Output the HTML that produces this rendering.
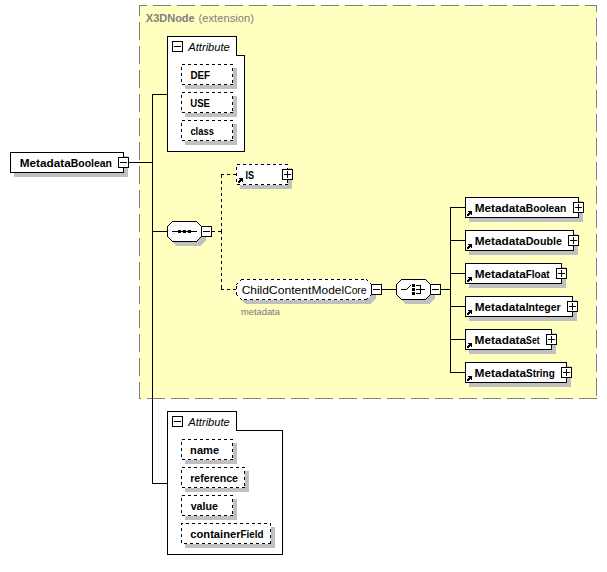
<!DOCTYPE html>
<html><head><meta charset="utf-8"><title>MetadataBoolean</title>
<style>
html,body{margin:0;padding:0;background:#fff;}
body{width:607px;height:572px;overflow:hidden;}
svg{display:block;font-family:"Liberation Sans",sans-serif;}
</style></head>
<body>
<svg width="607" height="572" viewBox="0 0 607 572" shape-rendering="crispEdges">
<rect width="607" height="572" fill="#fff"/>
<rect x="139" y="5" width="458" height="394" fill="#ffffc0"/>
<line x1="139" y1="5.5" x2="597" y2="5.5" stroke="#808080" stroke-dasharray="18 6" stroke-dashoffset="10"/>
<line x1="596.5" y1="5" x2="596.5" y2="399" stroke="#808080" stroke-dasharray="18 6" stroke-dashoffset="11"/>
<line x1="139.5" y1="5" x2="139.5" y2="399" stroke="#808080" stroke-dasharray="18 6" stroke-dashoffset="7"/>
<line x1="139" y1="398.5" x2="597" y2="398.5" stroke="#808080" stroke-dasharray="18 6" stroke-dashoffset="16"/>
<text id="x3d" y="22" font-weight="bold" fill="#808080" font-size="11"><tspan x="145.80" textLength="48.90" lengthAdjust="spacingAndGlyphs">X3DNode</tspan></text>
<text id="ext" y="22" font-weight="normal" fill="#808080" font-size="11"><tspan x="198.59" textLength="55.29" lengthAdjust="spacingAndGlyphs">(extension)</tspan></text>
<line x1="129" y1="162.5" x2="153" y2="162.5" stroke="#000"/>
<line x1="152.5" y1="94" x2="152.5" y2="484" stroke="#000"/>
<line x1="152" y1="94.5" x2="168" y2="94.5" stroke="#000"/>
<line x1="152" y1="231.5" x2="168" y2="231.5" stroke="#000"/>
<line x1="152" y1="483.5" x2="168" y2="483.5" stroke="#000"/>
<path d="M167.5,36.5 H236.5 V55.5 H244.5 V151.5 H167.5 Z" fill="#fff" stroke="#000"/>
<rect x="172.5" y="41.5" width="10" height="10" fill="#fff" stroke="#000"/>
<line x1="174" y1="46.5" x2="181" y2="46.5" stroke="#000"/>
<text id="g1_t" y="51" font-weight="normal" font-style="italic" fill="#000" font-size="11"><tspan x="188.31" textLength="41.51" lengthAdjust="spacingAndGlyphs">Attribute</tspan></text>
<rect x="185" y="68" width="52" height="21" fill="#c0c0c0"/>
<rect x="181" y="64" width="52" height="21" fill="#fff"/>
<line x1="181" y1="64.5" x2="233" y2="64.5" stroke="#000" stroke-dasharray="3 3" stroke-dashoffset="5"/>
<line x1="232.5" y1="65" x2="232.5" y2="85" stroke="#000" stroke-dasharray="3 3" stroke-dashoffset="3"/>
<line x1="181.5" y1="64" x2="181.5" y2="85" stroke="#000" stroke-dasharray="3 3" stroke-dashoffset="3"/>
<line x1="182" y1="84.5" x2="233" y2="84.5" stroke="#000" stroke-dasharray="3 3" stroke-dashoffset="0"/>
<text id="g1_0" y="79" font-weight="bold" fill="#000" font-size="11"><tspan x="190.43" textLength="19.63" lengthAdjust="spacingAndGlyphs">DEF</tspan></text>
<rect x="185" y="96" width="52" height="21" fill="#c0c0c0"/>
<rect x="181" y="92" width="52" height="21" fill="#fff"/>
<line x1="181" y1="92.5" x2="233" y2="92.5" stroke="#000" stroke-dasharray="3 3" stroke-dashoffset="5"/>
<line x1="232.5" y1="93" x2="232.5" y2="113" stroke="#000" stroke-dasharray="3 3" stroke-dashoffset="3"/>
<line x1="181.5" y1="92" x2="181.5" y2="113" stroke="#000" stroke-dasharray="3 3" stroke-dashoffset="3"/>
<line x1="182" y1="112.5" x2="233" y2="112.5" stroke="#000" stroke-dasharray="3 3" stroke-dashoffset="0"/>
<text id="g1_1" y="107" font-weight="bold" fill="#000" font-size="11"><tspan x="190.23" textLength="19.73" lengthAdjust="spacingAndGlyphs">USE</tspan></text>
<rect x="185" y="124" width="52" height="21" fill="#c0c0c0"/>
<rect x="181" y="120" width="52" height="21" fill="#fff"/>
<line x1="181" y1="120.5" x2="233" y2="120.5" stroke="#000" stroke-dasharray="3 3" stroke-dashoffset="5"/>
<line x1="232.5" y1="121" x2="232.5" y2="141" stroke="#000" stroke-dasharray="3 3" stroke-dashoffset="3"/>
<line x1="181.5" y1="120" x2="181.5" y2="141" stroke="#000" stroke-dasharray="3 3" stroke-dashoffset="3"/>
<line x1="182" y1="140.5" x2="233" y2="140.5" stroke="#000" stroke-dasharray="3 3" stroke-dashoffset="0"/>
<text id="g1_2" y="135" font-weight="bold" fill="#000" font-size="11"><tspan x="190.42" textLength="23.45" lengthAdjust="spacingAndGlyphs">class</tspan></text>
<path d="M167.5,411.5 H236.5 V430.5 H282.5 V554.5 H167.5 Z" fill="#fff" stroke="#000"/>
<rect x="172.5" y="416.5" width="10" height="10" fill="#fff" stroke="#000"/>
<line x1="174" y1="421.5" x2="181" y2="421.5" stroke="#000"/>
<text id="g2_t" y="426" font-weight="normal" font-style="italic" fill="#000" font-size="11"><tspan x="188.31" textLength="41.51" lengthAdjust="spacingAndGlyphs">Attribute</tspan></text>
<rect x="185" y="443" width="52" height="21" fill="#c0c0c0"/>
<rect x="181" y="439" width="52" height="21" fill="#fff"/>
<line x1="181" y1="439.5" x2="233" y2="439.5" stroke="#000" stroke-dasharray="3 3" stroke-dashoffset="5"/>
<line x1="232.5" y1="440" x2="232.5" y2="460" stroke="#000" stroke-dasharray="3 3" stroke-dashoffset="3"/>
<line x1="181.5" y1="439" x2="181.5" y2="460" stroke="#000" stroke-dasharray="3 3" stroke-dashoffset="3"/>
<line x1="182" y1="459.5" x2="233" y2="459.5" stroke="#000" stroke-dasharray="3 3" stroke-dashoffset="0"/>
<text id="g2_0" y="454" font-weight="bold" fill="#000" font-size="11"><tspan x="190.14" textLength="28.94" lengthAdjust="spacingAndGlyphs">name</tspan></text>
<rect x="185" y="471" width="64" height="21" fill="#c0c0c0"/>
<rect x="181" y="467" width="64" height="21" fill="#fff"/>
<line x1="181" y1="467.5" x2="245" y2="467.5" stroke="#000" stroke-dasharray="3 3" stroke-dashoffset="5"/>
<line x1="244.5" y1="468" x2="244.5" y2="488" stroke="#000" stroke-dasharray="3 3" stroke-dashoffset="3"/>
<line x1="181.5" y1="467" x2="181.5" y2="488" stroke="#000" stroke-dasharray="3 3" stroke-dashoffset="3"/>
<line x1="182" y1="487.5" x2="245" y2="487.5" stroke="#000" stroke-dasharray="3 3" stroke-dashoffset="0"/>
<text id="g2_1" y="482" font-weight="bold" fill="#000" font-size="11"><tspan x="190.18" textLength="47.79" lengthAdjust="spacingAndGlyphs">reference</tspan></text>
<rect x="185" y="499" width="52" height="21" fill="#c0c0c0"/>
<rect x="181" y="495" width="52" height="21" fill="#fff"/>
<line x1="181" y1="495.5" x2="233" y2="495.5" stroke="#000" stroke-dasharray="3 3" stroke-dashoffset="5"/>
<line x1="232.5" y1="496" x2="232.5" y2="516" stroke="#000" stroke-dasharray="3 3" stroke-dashoffset="3"/>
<line x1="181.5" y1="495" x2="181.5" y2="516" stroke="#000" stroke-dasharray="3 3" stroke-dashoffset="3"/>
<line x1="182" y1="515.5" x2="233" y2="515.5" stroke="#000" stroke-dasharray="3 3" stroke-dashoffset="0"/>
<text id="g2_2" y="510" font-weight="bold" fill="#000" font-size="11"><tspan x="190.65" textLength="27.32" lengthAdjust="spacingAndGlyphs">value</tspan></text>
<rect x="185" y="527" width="90" height="21" fill="#c0c0c0"/>
<rect x="181" y="523" width="90" height="21" fill="#fff"/>
<line x1="181" y1="523.5" x2="271" y2="523.5" stroke="#000" stroke-dasharray="3 3" stroke-dashoffset="1"/>
<line x1="270.5" y1="524" x2="270.5" y2="544" stroke="#000" stroke-dasharray="3 3" stroke-dashoffset="1"/>
<line x1="181.5" y1="523" x2="181.5" y2="544" stroke="#000" stroke-dasharray="3 3" stroke-dashoffset="1"/>
<line x1="182" y1="543.5" x2="271" y2="543.5" stroke="#000" stroke-dasharray="3 3" stroke-dashoffset="4"/>
<text id="g2_3" y="538" font-weight="bold" fill="#000" font-size="11"><tspan x="190.34" textLength="50.19" lengthAdjust="spacingAndGlyphs">container</tspan><tspan x="240.53" textLength="22.91" lengthAdjust="spacingAndGlyphs">Field</tspan></text>
<rect x="14" y="156" width="114" height="21" fill="#c0c0c0"/>
<rect x="10.5" y="152.5" width="113" height="20" fill="#fff" stroke="#000"/>
<text id="main" y="167" font-weight="bold" fill="#000" font-size="11"><tspan x="19.70" textLength="50.99" lengthAdjust="spacingAndGlyphs">Metadata</tspan><tspan x="70.69" textLength="41.27" lengthAdjust="spacingAndGlyphs">Boolean</tspan></text>
<rect x="118.5" y="157.5" width="10" height="10" fill="#fff" stroke="#000"/>
<line x1="120" y1="162.5" x2="127" y2="162.5" stroke="#000"/>
<polygon points="176.5,225.5 200.5,225.5 205.5,230.5 205.5,240.5 200.5,245.5 176.5,245.5 171.5,240.5 171.5,230.5" fill="#c0c0c0" stroke="#c0c0c0"/>
<polygon points="172.5,221.5 196.5,221.5 201.5,226.5 201.5,236.5 196.5,241.5 172.5,241.5 167.5,236.5 167.5,226.5" fill="#fff" stroke="#000"/>
<line x1="172" y1="231.5" x2="197" y2="231.5" stroke="#000"/>
<rect x="178" y="230" width="3" height="3" fill="#000"/>
<rect x="183" y="230" width="3" height="3" fill="#000"/>
<rect x="188" y="230" width="3" height="3" fill="#000"/>
<rect x="201.5" y="226.5" width="10" height="10" fill="#fff" stroke="#000"/>
<line x1="203" y1="231.5" x2="210" y2="231.5" stroke="#000"/>
<line x1="212" y1="231.5" x2="222" y2="231.5" stroke="#000" stroke-dasharray="3 3" stroke-dashoffset="0"/>
<line x1="221.5" y1="232" x2="221.5" y2="174" stroke="#000" stroke-dasharray="3 3"/>
<line x1="221.5" y1="231" x2="221.5" y2="288" stroke="#000" stroke-dasharray="3 3"/>
<rect x="221" y="288" width="1" height="2" fill="#000"/>
<line x1="221" y1="174.5" x2="237" y2="174.5" stroke="#000" stroke-dasharray="3 3" stroke-dashoffset="0"/>
<line x1="221" y1="289.5" x2="237" y2="289.5" stroke="#000" stroke-dasharray="3 3" stroke-dashoffset="0"/>
<rect x="240" y="168" width="52" height="21" fill="#c0c0c0"/>
<rect x="236" y="164" width="52" height="21" fill="#fff"/>
<line x1="236" y1="164.5" x2="288" y2="164.5" stroke="#000" stroke-dasharray="3 3" stroke-dashoffset="5"/>
<line x1="287.5" y1="165" x2="287.5" y2="185" stroke="#000" stroke-dasharray="3 3" stroke-dashoffset="3"/>
<line x1="236.5" y1="164" x2="236.5" y2="185" stroke="#000" stroke-dasharray="3 3" stroke-dashoffset="3"/>
<line x1="237" y1="184.5" x2="288" y2="184.5" stroke="#000" stroke-dasharray="3 3" stroke-dashoffset="0"/>
<rect x="239" y="178" width="4" height="1" fill="#000"/>
<rect x="240" y="179" width="3" height="1" fill="#000"/>
<rect x="239" y="180" width="4" height="1" fill="#000"/>
<rect x="238" y="181" width="3" height="1" fill="#000"/>
<rect x="242" y="181" width="1" height="1" fill="#000"/>
<rect x="238" y="182" width="2" height="1" fill="#000"/>
<text id="is" y="179" font-weight="bold" fill="#000" font-size="11"><tspan x="245.38" textLength="8.59" lengthAdjust="spacingAndGlyphs">IS</tspan></text>
<rect x="282.5" y="169.5" width="10" height="10" fill="#fff" stroke="#000"/>
<line x1="284" y1="174.5" x2="291" y2="174.5" stroke="#000"/>
<line x1="287.5" y1="171" x2="287.5" y2="178" stroke="#000"/>
<polygon points="245.5,283.5 370.5,283.5 375.5,288.5 375.5,298.5 370.5,303.5 245.5,303.5 240.5,298.5 240.5,288.5" fill="#c0c0c0" stroke="#c0c0c0"/>
<polygon points="241.5,279.5 366.5,279.5 371.5,284.5 371.5,294.5 366.5,299.5 241.5,299.5 236.5,294.5 236.5,284.5" fill="#fff" stroke="#fff"/>
<line x1="241" y1="279.5" x2="366" y2="279.5" stroke="#000" stroke-dasharray="3 3" stroke-dashoffset="0"/>
<line x1="244" y1="299.5" x2="367" y2="299.5" stroke="#000" stroke-dasharray="3 3" stroke-dashoffset="0"/>
<line x1="236.5" y1="286" x2="236.5" y2="295" stroke="#000" stroke-dasharray="3 3" stroke-dashoffset="0"/>
<rect x="366" y="279" width="1" height="1" fill="#000"/>
<rect x="367" y="280" width="1" height="1" fill="#000"/>
<rect x="370" y="283" width="1" height="1" fill="#000"/>
<rect x="367" y="298" width="1" height="1" fill="#000"/>
<rect x="370" y="295" width="1" height="1" fill="#000"/>
<rect x="240" y="280" width="1" height="1" fill="#000"/>
<rect x="237" y="283" width="1" height="1" fill="#000"/>
<rect x="236" y="284" width="1" height="1" fill="#000"/>
<rect x="237" y="295" width="1" height="1" fill="#000"/>
<rect x="240" y="298" width="1" height="1" fill="#000"/>
<rect x="241" y="299" width="1" height="1" fill="#000"/>
<text id="ccmc" y="294" font-weight="normal" fill="#000" font-size="11"><tspan x="241.70" textLength="27.19" lengthAdjust="spacingAndGlyphs">Child</tspan><tspan x="268.89" textLength="42.63" lengthAdjust="spacingAndGlyphs">Content</tspan><tspan x="311.52" textLength="32.67" lengthAdjust="spacingAndGlyphs">Model</tspan><tspan x="344.18" textLength="22.38" lengthAdjust="spacingAndGlyphs">Core</tspan></text>
<rect x="371.5" y="284.5" width="10" height="10" fill="#fff" stroke="#000"/>
<line x1="373" y1="289.5" x2="380" y2="289.5" stroke="#000"/>
<text id="meta" y="315" font-weight="normal" fill="#767676" font-size="9.5"><tspan x="241.06" textLength="38.85" lengthAdjust="spacingAndGlyphs">metadata</tspan></text>
<line x1="382" y1="289.5" x2="397" y2="289.5" stroke="#000"/>
<polygon points="405.5,283.5 429.5,283.5 434.5,288.5 434.5,298.5 429.5,303.5 405.5,303.5 400.5,298.5 400.5,288.5" fill="#c0c0c0" stroke="#c0c0c0"/>
<polygon points="401.5,279.5 425.5,279.5 430.5,284.5 430.5,294.5 425.5,299.5 401.5,299.5 396.5,294.5 396.5,284.5" fill="#fff" stroke="#000"/>
<rect x="430.5" y="284.5" width="10" height="10" fill="#fff" stroke="#000"/>
<line x1="432" y1="289.5" x2="439" y2="289.5" stroke="#000"/>
<line x1="401" y1="289.5" x2="407" y2="289.5" stroke="#000"/>
<rect x="407" y="288" width="1" height="1" fill="#000"/>
<rect x="408" y="287" width="1" height="1" fill="#000"/>
<rect x="409" y="286" width="1" height="1" fill="#000"/>
<rect x="410" y="285" width="1" height="1" fill="#000"/>
<rect x="412" y="284" width="3" height="3" fill="#000"/>
<rect x="412" y="288" width="3" height="3" fill="#000"/>
<rect x="412" y="292" width="3" height="3" fill="#000"/>
<line x1="416" y1="285.5" x2="421" y2="285.5" stroke="#000"/>
<line x1="416" y1="293.5" x2="421" y2="293.5" stroke="#000"/>
<line x1="420.5" y1="285" x2="420.5" y2="294" stroke="#000"/>
<line x1="416" y1="289.5" x2="425" y2="289.5" stroke="#000"/>
<line x1="441" y1="289.5" x2="451" y2="289.5" stroke="#000"/>
<line x1="450.5" y1="207" x2="450.5" y2="373" stroke="#000"/>
<line x1="450" y1="207.5" x2="466" y2="207.5" stroke="#000"/>
<rect x="469" y="201" width="114" height="21" fill="#c0c0c0"/>
<rect x="465.5" y="197.5" width="113" height="20" fill="#fff" stroke="#000"/>
<rect x="468" y="211" width="4" height="1" fill="#000"/>
<rect x="469" y="212" width="3" height="1" fill="#000"/>
<rect x="468" y="213" width="4" height="1" fill="#000"/>
<rect x="467" y="214" width="3" height="1" fill="#000"/>
<rect x="471" y="214" width="1" height="1" fill="#000"/>
<rect x="467" y="215" width="2" height="1" fill="#000"/>
<text id="el0" y="212" font-weight="bold" fill="#000" font-size="11"><tspan x="474.65" textLength="51.05" lengthAdjust="spacingAndGlyphs">Metadata</tspan><tspan x="525.70" textLength="40.65" lengthAdjust="spacingAndGlyphs">Boolean</tspan></text>
<rect x="573.5" y="202.5" width="10" height="10" fill="#fff" stroke="#000"/>
<line x1="575" y1="207.5" x2="582" y2="207.5" stroke="#000"/>
<line x1="578.5" y1="204" x2="578.5" y2="211" stroke="#000"/>
<line x1="450" y1="240.5" x2="466" y2="240.5" stroke="#000"/>
<rect x="469" y="234" width="109" height="21" fill="#c0c0c0"/>
<rect x="465.5" y="230.5" width="108" height="20" fill="#fff" stroke="#000"/>
<rect x="468" y="244" width="4" height="1" fill="#000"/>
<rect x="469" y="245" width="3" height="1" fill="#000"/>
<rect x="468" y="246" width="4" height="1" fill="#000"/>
<rect x="467" y="247" width="3" height="1" fill="#000"/>
<rect x="471" y="247" width="1" height="1" fill="#000"/>
<rect x="467" y="248" width="2" height="1" fill="#000"/>
<text id="el1" y="245" font-weight="bold" fill="#000" font-size="11"><tspan x="474.65" textLength="51.02" lengthAdjust="spacingAndGlyphs">Metadata</tspan><tspan x="525.67" textLength="36.19" lengthAdjust="spacingAndGlyphs">Double</tspan></text>
<rect x="568.5" y="235.5" width="10" height="10" fill="#fff" stroke="#000"/>
<line x1="570" y1="240.5" x2="577" y2="240.5" stroke="#000"/>
<line x1="573.5" y1="237" x2="573.5" y2="244" stroke="#000"/>
<line x1="450" y1="273.5" x2="466" y2="273.5" stroke="#000"/>
<rect x="469" y="267" width="97" height="21" fill="#c0c0c0"/>
<rect x="465.5" y="263.5" width="96" height="20" fill="#fff" stroke="#000"/>
<rect x="468" y="277" width="4" height="1" fill="#000"/>
<rect x="469" y="278" width="3" height="1" fill="#000"/>
<rect x="468" y="279" width="4" height="1" fill="#000"/>
<rect x="467" y="280" width="3" height="1" fill="#000"/>
<rect x="471" y="280" width="1" height="1" fill="#000"/>
<rect x="467" y="281" width="2" height="1" fill="#000"/>
<text id="el2" y="278" font-weight="bold" fill="#000" font-size="11"><tspan x="474.65" textLength="51.07" lengthAdjust="spacingAndGlyphs">Metadata</tspan><tspan x="525.72" textLength="23.90" lengthAdjust="spacingAndGlyphs">Float</tspan></text>
<rect x="556.5" y="268.5" width="10" height="10" fill="#fff" stroke="#000"/>
<line x1="558" y1="273.5" x2="565" y2="273.5" stroke="#000"/>
<line x1="561.5" y1="270" x2="561.5" y2="277" stroke="#000"/>
<line x1="450" y1="306.5" x2="466" y2="306.5" stroke="#000"/>
<rect x="469" y="300" width="108" height="21" fill="#c0c0c0"/>
<rect x="465.5" y="296.5" width="107" height="20" fill="#fff" stroke="#000"/>
<rect x="468" y="310" width="4" height="1" fill="#000"/>
<rect x="469" y="311" width="3" height="1" fill="#000"/>
<rect x="468" y="312" width="4" height="1" fill="#000"/>
<rect x="467" y="313" width="3" height="1" fill="#000"/>
<rect x="471" y="313" width="1" height="1" fill="#000"/>
<rect x="467" y="314" width="2" height="1" fill="#000"/>
<text id="el3" y="311" font-weight="bold" fill="#000" font-size="11"><tspan x="474.65" textLength="51.04" lengthAdjust="spacingAndGlyphs">Metadata</tspan><tspan x="525.68" textLength="34.98" lengthAdjust="spacingAndGlyphs">Integer</tspan></text>
<rect x="567.5" y="301.5" width="10" height="10" fill="#fff" stroke="#000"/>
<line x1="569" y1="306.5" x2="576" y2="306.5" stroke="#000"/>
<line x1="572.5" y1="303" x2="572.5" y2="310" stroke="#000"/>
<line x1="450" y1="339.5" x2="466" y2="339.5" stroke="#000"/>
<rect x="469" y="333" width="87" height="21" fill="#c0c0c0"/>
<rect x="465.5" y="329.5" width="86" height="20" fill="#fff" stroke="#000"/>
<rect x="468" y="343" width="4" height="1" fill="#000"/>
<rect x="469" y="344" width="3" height="1" fill="#000"/>
<rect x="468" y="345" width="4" height="1" fill="#000"/>
<rect x="467" y="346" width="3" height="1" fill="#000"/>
<rect x="471" y="346" width="1" height="1" fill="#000"/>
<rect x="467" y="347" width="2" height="1" fill="#000"/>
<text id="el4" y="344" font-weight="bold" fill="#000" font-size="11"><tspan x="474.64" textLength="51.48" lengthAdjust="spacingAndGlyphs">Metadata</tspan><tspan x="526.12" textLength="13.47" lengthAdjust="spacingAndGlyphs">Set</tspan></text>
<rect x="546.5" y="334.5" width="10" height="10" fill="#fff" stroke="#000"/>
<line x1="548" y1="339.5" x2="555" y2="339.5" stroke="#000"/>
<line x1="551.5" y1="336" x2="551.5" y2="343" stroke="#000"/>
<line x1="450" y1="372.5" x2="466" y2="372.5" stroke="#000"/>
<rect x="469" y="366" width="102" height="21" fill="#c0c0c0"/>
<rect x="465.5" y="362.5" width="101" height="20" fill="#fff" stroke="#000"/>
<rect x="468" y="376" width="4" height="1" fill="#000"/>
<rect x="469" y="377" width="3" height="1" fill="#000"/>
<rect x="468" y="378" width="4" height="1" fill="#000"/>
<rect x="467" y="379" width="3" height="1" fill="#000"/>
<rect x="471" y="379" width="1" height="1" fill="#000"/>
<rect x="467" y="380" width="2" height="1" fill="#000"/>
<text id="el5" y="377" font-weight="bold" fill="#000" font-size="11"><tspan x="474.64" textLength="51.44" lengthAdjust="spacingAndGlyphs">Metadata</tspan><tspan x="526.08" textLength="28.67" lengthAdjust="spacingAndGlyphs">String</tspan></text>
<rect x="561.5" y="367.5" width="10" height="10" fill="#fff" stroke="#000"/>
<line x1="563" y1="372.5" x2="570" y2="372.5" stroke="#000"/>
<line x1="566.5" y1="369" x2="566.5" y2="376" stroke="#000"/>
</svg>
</body></html>
